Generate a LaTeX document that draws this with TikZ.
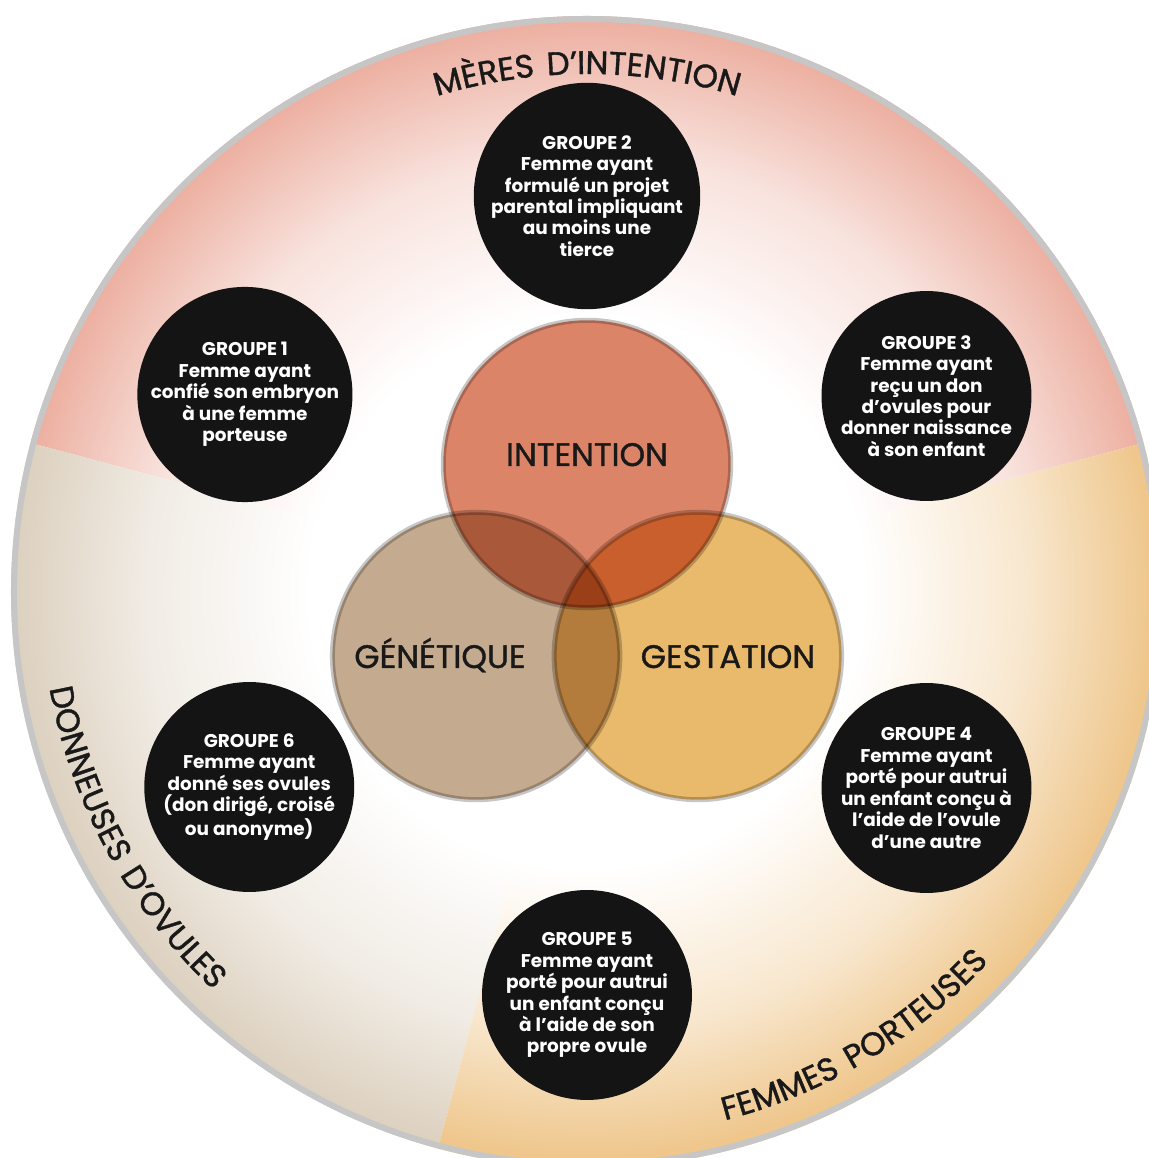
\documentclass[tikz,border=0pt]{standalone}
\usepackage{fontspec}
\setmainfont{Poppins}
\newfontfamily\arcfont[LetterSpace=11, FakeBold=1.2]{Poppins}
\newfontfamily\vennfont[FakeBold=1.2]{Poppins}
\usepackage{xcolor}
\usepackage{tikz}
\usetikzlibrary{decorations.text}
\usetikzlibrary{calc}

\definecolor{rimpink}{HTML}{ECAE9F}
\definecolor{rimbeige}{HTML}{DCD0BE}
\definecolor{rimgold}{HTML}{EEC487}
\definecolor{intcol}{HTML}{DC8468}
\definecolor{gencol}{HTML}{C4AA8E}
\definecolor{gescol}{HTML}{E9B96C}
\definecolor{ringgrey}{HTML}{C6C6C6}
\definecolor{nearblack}{HTML}{141414}

\pgfdeclareradialshading{pinkfade}{\pgfpoint{0bp}{0bp}}{color(0bp)=(white); color(12bp)=(white); color(19bp)=(rimpink!35!white); color(25bp)=(rimpink); color(50bp)=(rimpink)}
\pgfdeclareradialshading{beigefade}{\pgfpoint{0bp}{0bp}}{color(0bp)=(white); color(12bp)=(white); color(19bp)=(rimbeige!40!white); color(25bp)=(rimbeige); color(50bp)=(rimbeige)}
\pgfdeclareradialshading{goldfade}{\pgfpoint{0bp}{0bp}}{color(0bp)=(white); color(12bp)=(white); color(19bp)=(rimgold!40!white); color(25bp)=(rimgold); color(50bp)=(rimgold)}

\tikzstyle{groupe} =[circle, fill=nearblack, text=white, minimum size=4.2cm, inner sep=0pt, align=center, font=\bfseries\fontsize{10.5}{12.2}\selectfont]
\tikzstyle{venn} =[circle, draw=ringgrey, line width=0.1cm, minimum size=5.75cm]
\tikzstyle{vennlabel} =[anchor=base, text=black!90, font=\vennfont\fontsize{18.5}{20}\selectfont]
\tikzstyle{arclabel} =[decorate, decoration={text along path, text align=center, text color=black!90}]

\begin{document}
\begin{tikzpicture}[x=0.02cm, y=0.02cm]
		\useasboundingbox (-587,-566) rectangle (561,592);
		\coordinate (c) at (0,0);
		% secteurs
		\begin{scope}
		\clip (c) -- (15:600) arc[start angle=15, end angle=165, radius=600] -- cycle;
		\shade[shading=pinkfade] (c) circle (576);
		\end{scope}
		\begin{scope}
		\clip (c) -- (165:600) arc[start angle=165, end angle=255, radius=600] -- cycle;
		\shade[shading=beigefade] (c) circle (576);
		\end{scope}
		\begin{scope}
		\clip (c) -- (255:600) arc[start angle=255, end angle=375, radius=600] -- cycle;
		\shade[shading=goldfade] (c) circle (576);
		\end{scope}
		\draw[ringgrey, line width=0.12cm] (c) circle (573);
		% titres courbes
		\path[arclabel, decoration={text={|\arcfont\fontsize{18.5}{18}\selectfont|MÈRES D’INTENTION}}]
		(120:518) arc[start angle=120, end angle=60, radius=518];
		\path[arclabel, decoration={text={|\arcfont\fontsize{18.5}{18}\selectfont|DONNEUSES D’OVULES}}]
		(178:546) arc[start angle=178, end angle=239, radius=546];
		\path[arclabel, decoration={text={|\arcfont\fontsize{18.5}{18}\selectfont|FEMMES PORTEUSES}}]
		(271:546) arc[start angle=271, end angle=331, radius=546];
		% cercles
		\begin{scope}[blend group=multiply]
		\node (int)[venn, fill=intcol] at (90:128) {};
		\node (gen)[venn, fill=gencol] at (210:128) {};
		\node (ges)[venn, fill=gescol] at (330:128) {};
		\end{scope}
		\node (intlab)[vennlabel] at (0,126) {INTENTION};
		\node (genlab)[vennlabel] at (-147,-76) {GÉNÉTIQUE};
		\node (geslab)[vennlabel] at (141,-76) {GESTATION};
		% groupes
		\node (g1)[groupe] at (150:395) {GROUPE 1\\Femme ayant\\confié son embryon\\à une femme\\porteuse};
		\node (g2)[groupe] at (90:396) {GROUPE 2\\Femme ayant\\formulé un projet\\parental impliquant\\au moins une\\tierce};
		\node (g3)[groupe] at (30:392) {GROUPE 3\\Femme ayant\\reçu un don\\d’ovules pour\\donner naissance\\à son enfant};
		\node (g4)[groupe] at (330:392) {GROUPE 4\\Femme ayant\\porté pour autrui\\un enfant conçu à\\l’aide de l’ovule\\d’une autre};
		\node (g5)[groupe] at (270:403) {GROUPE 5\\Femme ayant\\porté pour autrui\\un enfant conçu\\à l’aide de son\\propre ovule};
		\node (g6)[groupe] at (210:390) {GROUPE 6\\Femme ayant\\donné ses ovules\\(don dirigé, croisé\\ou anonyme)};
\end{tikzpicture}
\end{document}
